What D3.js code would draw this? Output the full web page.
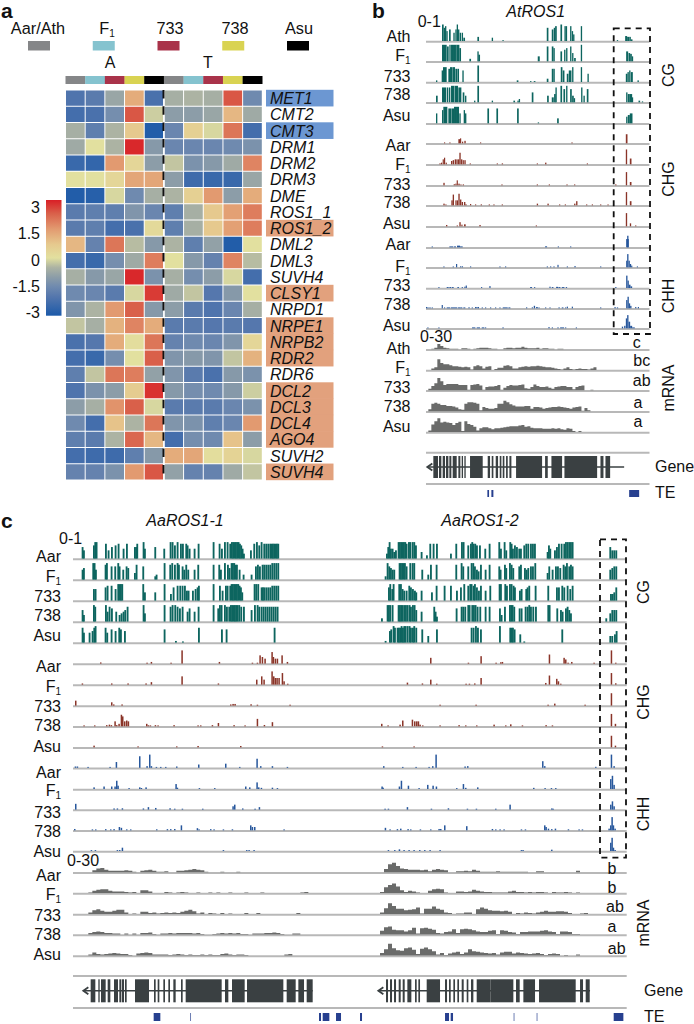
<!DOCTYPE html>
<html><head><meta charset="utf-8">
<script src="https://cdn.jsdelivr.net/npm/d3@7"></script>
<style>html,body{margin:0;padding:0;background:#fff}svg{display:block}text{font-family:"Liberation Sans",Arial,sans-serif;fill:#111}</style>
</head><body><svg id="c" width="694" height="1024"></svg>
<script>
const samples=["Aar/Ath","F1","733","738","Asu"];
const sampleColors=["#858688","#85c3cf","#a9334a","#d9d352","#000000"];
const genes=["MET1","CMT2","CMT3","DRM1","DRM2","DRM3","DME","ROS1_1","ROS1_2","DML2","DML3","SUVH4","CLSY1","NRPD1","NRPE1","NRPB2","RDR2","RDR6","DCL2","DCL3","DCL4","AGO4","SUVH2","SUVH4"];
const geneHighlight=["b","","b","","","","","","o","","","","o","","o","o","o","","o","o","o","o","","o"];
const heat=[
[-2.1,-1.9,-.8,1.2,-2.2,-.6,-.5,-.6,2.4,-1.5],
[-2.3,-2.2,-1.4,2.4,-.2,-1,-1,-.8,1,-.7],
[-.6,-1.8,-.5,.7,-2.9,-1.6,.5,-.1,2,-2.3],
[-.7,0,-.5,2.9,-1.1,-1.6,-1.6,-1.6,-1.5,-1.3],
[-2.5,-2.6,1.5,.3,-1,-.3,-1.3,-1.1,-.7,1.8],
[0,0,.3,1.3,1.3,-1,-2.4,-2.5,-2.5,-.8],
[-2.9,-2.8,-.1,-1.5,-.6,-.5,.5,1.5,-1,1.2],
[-1.9,-1.8,-1.8,-1.2,-1.6,-1.8,-.6,.7,1.4,1.9],
[-1.9,-1.8,-2.3,-2.2,.2,-1.8,-.6,.7,1.4,1.9],
[1,-1.7,2,-.4,-1.1,-.5,-1.8,-.9,-2.9,0],
[-2.3,-2.5,-1.4,-.7,1.9,0,-1.1,-1.7,1.8,-.4],
[-.6,-1.1,-.8,2.9,-1.3,-.6,-1.4,-1,-.1,-2.3],
[-1.5,-1.6,-1.9,-.1,2.7,-.7,-.3,-2,-1.1,0],
[-1.2,-.5,1.5,2.3,-1.1,-1,-1.9,-2.1,-1.6,-.6],
[-.3,-.6,1.1,1.8,1.2,-1.9,-1.9,-2,-1.9,-2],
[-2.2,-2,1.2,.1,2,-1.7,-1.5,-1.6,-1.2,.3],
[-2.3,-2.5,-1.4,0,2.3,-1.2,-1.1,-1.2,-.3,1.1],
[-1.8,-.3,2,1.9,-.9,-1.2,-1.9,-2.2,-1.1,-1.3],
[-2.1,-1.3,-1,.6,2.8,-1.1,-1.4,-1.5,-1.1,-.2],
[-1,-.6,1.6,2.3,-.1,-1.9,-1.9,-1.9,-1.6,-1.3],
[-1.5,-2.3,.8,-.5,2,-1.2,-1.3,-1.8,-1.6,1.5],
[-1.8,-1.9,-.5,2.2,1,-2.3,-1.4,-1.5,.8,-1],
[-2.3,-2.4,-2.4,-1.8,-1.1,1.2,1.3,.1,.4,-.1],
[-1.7,-1.7,-1.3,1.5,2.4,-.9,-1.7,-1.7,-.7,-.3]];
const heatTicks=[3,1.5,0,-1.5,-3];
const heatStops=[-3,-2,-1.5,-1,-.5,0,.7,1.5,2.3,3];
const heatColors=["#1c5aa9","#5577ad","#6f8aaf","#8c9da8","#acb3a3","#e2e09f","#e6c98e","#e29a70","#d9604a","#d91f26"];

/* panel b: [position, width, level 0-10] */
const bCG=[
[[216,5,10],[221,4,8],[225,3,9],[229,4,6],[237,5,7],[250,3,5],[256,4,7],[260,4,10],[264,4,7],[269,3,5],[275,3,5],[280,5,2],[322,5,2.5],[365,4,2],[397,4,.5],[530,5,8],[545,5,7],[551,3,8],[555,5,9],[571,5,10],[583,3,9],[587,4,9],[600,4,9],[605,3,6],[609,4,4],[632,4,9],[740,4,.5],[765,6,3],[771,7,2.5],[778,4,2.5],[782,5,1]],
[[216,14,10],[231,5,9],[238,4,10],[243,6,10],[249,6,10],[255,5,10],[260,8,10],[268,5,8],[298,5,1.5],[322,3,6],[325,5,4],[503,6,3],[530,5,9],[545,5,9],[550,4,8],[571,5,6],[582,3,7],[588,3,8],[600,4,9],[606,3,5],[612,5,2],[632,4,10],[768,6,6],[775,5,5],[780,5,4.5],[785,4,3]],
[[198,4,1],[215,4,7],[219,11,9],[235,5,8],[240,8,9],[249,6,9],[256,5,8],[262,5,8],[277,4,7],[322,5,10],[440,5,1],[480,4,.5],[491,5,.5],[530,5,2],[545,5,8],[550,4,8],[572,5,9],[578,5,7],[590,5,5],[596,8,7],[606,3,9],[632,4,9],[652,4,5],[767,5,5],[772,4,6],[777,4,7],[782,6,6],[802,4,1]],
[[198,5,4],[216,12,9],[230,4,9],[236,5,9],[243,10,10],[254,10,10],[265,9,9],[278,5,6],[285,4,4],[312,3,1],[322,5,10],[365,3,1],[430,5,1],[442,3,1],[446,4,2],[485,5,6],[531,5,4],[545,6,3],[552,5,5],[556,3,9],[571,5,10],[580,5,8],[588,3,10],[600,5,8],[606,5,4],[611,4,2.5],[633,4,9],[640,4,4],[650,5,8],[768,4,6],[773,6,5],[779,7,5],[785,4,3],[805,5,1],[815,4,.5]],
[[198,4,6],[216,4,8],[220,12,10],[235,8,9],[244,8,9],[252,6,10],[258,9,10],[268,4,6],[281,3,8],[285,4,6],[352,5,9],[379,5,9],[441,5,9],[503,4,.5],[561,5,3],[768,4,4],[773,6,5],[779,8,6]]];
const bCHG=[
[[222,2,.5],[238,2,.5],[265,5,2.5],[270,3,3],[276,2,1],[283,4,1.5],[330,3,.5],[604,3,.5],[767,5,5.5]],
[[208,4,.5],[213,3,1],[218,3,3],[222,3,4],[227,3,1],[243,4,2],[248,4,2.5],[254,4,3],[259,4,3],[264,4,3],[268,4,7],[273,4,3],[278,3,2.5],[283,4,2.5],[299,3,.5],[380,3,.5],[395,4,.5],[500,3,.5],[525,4,1],[650,3,.3],[767,4,9],[779,5,3.5]],
[[220,4,1.5],[251,3,.7],[256,3,1],[260,3,3],[265,4,1],[271,3,.5],[278,4,.5],[394,3,.3],[500,3,.3],[536,3,.5],[589,3,.3],[612,3,.5],[735,4,.5],[767,4,8],[779,5,2]],
[[220,4,1],[226,3,.5],[244,4,3],[248,4,6.5],[256,3,3],[260,4,3],[265,4,7],[270,4,3.5],[275,4,2],[282,4,2],[286,4,.5],[300,3,.8],[315,3,.5],[332,3,.6],[356,2,.3],[370,2,.3],[395,3,.5],[500,4,1],[532,4,1],[567,3,.4],[584,3,.4],[612,4,1],[618,4,2.5],[648,3,.3],[665,3,.3],[690,3,.3],[712,3,.3],[767,4,8],[779,5,2.5]],
[[228,4,.8],[260,3,.5],[268,4,2.5],[274,3,1],[282,5,1.2],[328,4,.8],[497,3,.3],[767,4,8],[779,4,1.8],[795,3,.4]]];
const bCHH=[
[[185,2,.3],[238,12,.4],[252,6,.4],[261,9,1],[270,8,.5],[525,6,.6],[563,3,.3],[600,3,.3],[768,8,5],[771,4,7]],
[[220,3,.3],[248,2,.3],[258,3,2],[270,3,.6],[275,4,.6],[300,3,.4],[388,3,.3],[405,3,.3],[530,3,.4],[540,3,.5],[550,3,.3],[562,3,1.5],[590,3,.3],[613,3,.8],[690,3,.4],[768,3,4],[771,4,8],[775,4,4],[779,4,2],[783,3,1],[800,3,.3]],
[[205,3,.3],[230,6,.5],[238,6,.5],[246,5,.4],[262,5,.5],[275,3,.4],[283,3,.8],[287,3,1.5],[333,2,.3],[358,3,1.2],[480,6,.3],[492,3,.3],[538,3,.8],[545,5,.5],[558,6,.7],[565,6,.5],[575,8,.4],[587,4,.3],[735,4,.5],[768,4,7.5],[772,4,4.5],[776,5,2],[781,5,1]],
[[168,3,.8],[172,4,.5],[178,4,.3],[185,3,.3],[215,3,2],[222,3,.5],[230,10,.5],[242,20,.5],[264,8,.5],[272,5,.5],[280,6,.5],[295,4,.6],[305,3,.5],[315,5,.8],[322,5,.8],[335,3,.4],[345,3,.3],[360,3,.3],[375,3,.3],[388,3,.3],[398,15,.3],[415,6,.3],[468,3,.6],[485,3,.6],[491,4,1.5],[498,5,.8],[505,3,.5],[525,3,.3],[538,3,.3],[565,4,.4],[575,5,.5],[585,3,.5],[590,3,1],[605,3,1],[690,3,.3],[733,3,.8],[740,4,.4],[768,4,5],[772,4,7],[776,4,3],[780,4,1.5],[795,3,.8],[803,3,.8]],
[[172,2,.3],[205,2,.3],[306,10,.3],[320,10,.3],[335,8,.3],[345,2,.3],[397,4,.3],[535,3,.8],[545,2,.3],[562,3,.6],[570,12,.4],[585,3,.4],[617,3,.5],[755,4,1],[762,4,1.5],[767,4,6],[771,4,8],[775,5,4],[780,6,1.5],[786,8,.5]]];
const bRNA=[
[0,1,3,10,6,3,2,1,1,1,0,2,2,1,0,1,2,3,3,3,2,1,1,0,0,2,3,3,2,3,3,5,3,2,2,2,3,1,2,2,1,1,0,1,1,0,0,0,0,1],
[0,3,5,20,13,11,11,9,7,7,6,5,6,5,1,7,9,7,3,6,7,0,2,4,4,8,9,7,3,3,5,6,7,6,7,7,8,7,6,5,5,4,3,2,1,3,5,2,1,2,3,2,2,1,3,5,0],
[3,8,13,23,17,10,12,12,12,12,10,10,10,1,10,11,12,9,1,6,7,7,8,10,1,5,8,10,9,9,10,11,4,3,6,11,8,6,6,7,5,3,6,7,8,8,6,6,2,6,8,9,0,0,1,0],
[4,14,16,14,12,12,10,10,9,7,4,3,14,17,17,16,14,2,8,6,5,5,6,14,14,20,17,13,11,9,9,9,10,10,5,8,8,7,5,6,7,8,8,9,8,7,6,5,7,8,9,1,6,2,0],
[3,14,20,26,18,19,18,17,13,17,19,2,20,15,13,10,3,7,9,9,7,5,7,7,8,9,10,11,11,11,12,13,10,11,8,7,7,7,6,6,6,7,6,7,5,4,7,6,2,0,2,0]];
const bExons=[[190,14],[207,7],[218,7],[228,7],[238,6],[248,12],[265,6],[275,4],[283,4],[300,38],[353,7],[365,5],[377,7],[389,5],[398,5],[408,5],[418,6],[438,78],[525,8],[544,32],[583,98],[691,9],[706,14]];
const bTE=[[352,5],[364,6],[777,30]];
const bSigLetters=["c","bc","ab","a","a"];

/* panel c: each sample holds [AaROS1-1 region, AaROS1-2 region] of [position, level 0-10] */
const cCG=[
[[[245,7],[249,5],[279,8],[283,10],[287,10],[315,9],[323,5],[333,7],[344,8],[353,9],[368,6],[378,9],[402,7],[406,7],[409,9],[428,10],[432,6],[463,7],[490,6],[509,10],[515,10],[522,8],[530,10],[540,9],[546,9],[556,9],[560,8],[566,6],[581,6],[593,9],[638,10],[656,9],[663,6],[672,10],[680,10],[688,9],[693,10],[697,10],[701,10],[705,10],[709,10],[713,10],[717,9],[721,8],[725,6],[729,3],[750,5],[760,9],[768,10],[775,8],[782,10],[790,9],[796,9],[802,9],[808,9],[812,9],[816,9],[820,9],[824,9],[828,9],[832,9]],
[[108,3],[112,7],[116,10],[120,6],[125,6],[130,4],[135,5],[143,10],[147,10],[151,10],[155,10],[159,10],[163,10],[167,9],[174,10],[178,10],[185,10],[190,10],[195,8],[212,4],[228,2],[238,9],[248,9],[258,9],[300,3],[316,9],[333,10],[338,10],[352,8],[360,9],[364,10],[368,9],[373,9],[378,8],[387,8],[403,6],[416,9],[445,10],[450,6],[461,10],[466,5],[478,10],[482,9],[486,6],[492,8],[498,7],[505,6],[510,6],[520,8],[526,9],[532,9],[540,9],[546,9],[552,9],[590,4],[594,8],[598,6],[612,5],[618,7],[624,9],[632,9],[640,9],[645,10],[650,10],[655,10],[660,10],[665,10],[778,7],[784,5],[790,5],[796,5]]],
[[[245,6],[249,7],[277,10],[281,10],[285,6],[314,9],[318,10],[332,8],[343,8],[352,10],[356,8],[367,6],[377,8],[382,7],[402,4],[407,9],[427,8],[463,2],[467,3],[491,10],[508,9],[514,10],[522,9],[530,10],[534,9],[545,8],[550,6],[556,9],[562,6],[581,6],[592,9],[638,9],[655,9],[660,6],[672,10],[681,9],[686,7],[692,10],[696,10],[700,10],[704,9],[708,9],[716,6],[728,3],[752,3],[765,8],[771,9],[777,8],[785,9],[790,9],[796,9],[802,9],[808,9],[814,10],[820,10],[826,10],[832,10]],
[[104,2],[110,10],[115,8],[120,7],[125,6],[130,6],[146,10],[150,10],[154,10],[158,10],[162,10],[167,8],[178,10],[185,10],[190,10],[214,6],[232,3],[240,9],[257,9],[316,9],[332,10],[337,8],[352,8],[362,10],[367,10],[372,8],[378,6],[383,5],[390,9],[404,6],[416,9],[445,8],[449,6],[462,9],[466,7],[477,10],[482,9],[487,7],[505,8],[510,9],[522,7],[527,6],[532,7],[540,8],[546,8],[553,10],[590,4],[595,8],[605,6],[615,8],[621,8],[628,7],[638,9],[643,8],[648,10],[655,8],[660,9],[665,8],[778,6],[784,7],[790,8],[796,8]]],
[[[279,7],[284,7],[314,8],[320,9],[332,9],[344,7],[352,10],[356,10],[360,10],[364,10],[427,10],[432,5],[463,5],[491,10],[510,4],[518,8],[530,9],[538,9],[545,9],[552,9],[558,6],[563,6],[576,6],[584,7],[590,8],[594,9],[638,10],[657,9],[665,6],[675,9],[680,9],[688,9],[692,10],[696,10],[700,10],[704,10],[708,10],[712,10],[716,9],[720,8],[724,5],[761,10],[766,10],[772,10],[782,8],[786,8],[790,8],[796,8],[802,8],[808,8],[814,9],[820,9],[826,9],[832,9]],
[[114,8],[118,10],[124,7],[128,10],[145,10],[150,10],[155,7],[160,6],[167,6],[175,9],[180,8],[186,7],[192,6],[196,5],[212,6],[243,5],[257,9],[281,9],[300,9],[318,6],[330,8],[340,10],[352,9],[358,10],[362,10],[368,9],[372,10],[378,8],[384,6],[390,9],[404,6],[418,9],[446,10],[450,10],[463,10],[468,9],[477,10],[482,10],[488,9],[492,8],[507,6],[512,7],[526,7],[530,8],[535,9],[554,9],[592,9],[618,8],[624,8],[634,9],[640,8],[650,9],[658,7],[665,9],[780,4],[785,4],[790,5],[796,8]]],
[[[245,7],[249,4],[279,10],[283,9],[315,10],[320,6],[326,9],[333,8],[346,6],[356,4],[362,5],[368,6],[373,7],[380,9],[428,10],[432,5],[491,10],[509,9],[515,10],[523,10],[530,9],[537,8],[545,9],[560,6],[566,8],[581,6],[593,9],[638,10],[652,8],[657,10],[662,10],[672,10],[678,9],[685,9],[690,10],[694,10],[698,10],[702,10],[706,10],[710,10],[715,10],[721,9],[729,9],[752,7],[762,10],[770,10],[775,9],[782,9],[788,9],[794,9],[800,9],[806,9],[812,9],[818,9],[824,9],[830,9]],
[[93,2],[110,10],[114,10],[118,10],[125,10],[143,10],[147,10],[151,10],[155,10],[160,10],[165,10],[170,10],[176,10],[180,9],[186,10],[191,10],[196,7],[212,6],[250,9],[254,6],[258,3],[317,8],[332,9],[337,9],[343,9],[352,10],[356,10],[364,10],[369,10],[374,10],[380,9],[388,9],[404,9],[416,9],[447,8],[452,4],[462,9],[477,10],[481,10],[485,10],[490,9],[506,8],[512,8],[524,9],[530,9],[535,10],[540,9],[547,9],[555,9],[592,10],[596,10],[619,8],[630,7],[635,6],[645,8],[650,9],[655,7],[660,5],[766,2],[778,5],[784,7],[790,7],[796,7]]],
[[[245,9],[249,6],[266,6],[275,7],[280,9],[284,10],[314,9],[319,6],[332,8],[344,7],[355,9],[360,8],[372,7],[491,8],[525,1],[546,.7],[594,9],[663,8],[677,8],[821,9]],
[[104,1],[117,7],[121,8],[128,10],[132,9],[140,9],[144,9],[148,9],[152,10],[156,9],[160,10],[164,10],[170,10],[176,10],[180,9],[186,9],[190,10],[196,9],[214,8],[232,4],[258,8],[362,9],[368,9],[375,10],[381,9],[390,8],[447,10],[478,9],[482,9],[486,9],[491,8],[508,5],[520,.7],[634,8],[778,4],[784,4],[792,5],[797,7]]]];
const cCHG=[
[[[300,.7],[439,.5],[452,1],[511,.4],[544,8],[656,1],[755,.4],[770,.4],[778,5],[785,4],[793,3],[814,7],[818,4],[824,3],[830,3],[844,5],[860,1]],
[[240,3.5],[353,.4],[391,4.5],[436,.4],[450,.8],[455,1],[596,5.5],[640,3.5],[645,2.5],[652,.4],[663,1],[730,.4],[782,8],[795,.5]]],
[[[245,.7],[333,.7],[382,.7],[436,.7],[452,1.5],[544,5],[653,.7],[768,3],[783,5],[790,3],[814,8],[819,5],[824,4],[829,4],[835,4],[845,7],[850,2],[861,.5]],
[[170,1.2],[215,.7],[240,3],[258,.5],[346,.5],[356,.5],[372,.7],[391,4],[585,1],[596,5.5],[618,3.5],[623,2],[630,.4],[782,7],[795,.8]]],
[[[225,3],[333,2],[339,.7],[364,.7],[690,.7],[697,1],[703,1],[751,.8],[770,.5],[868,.3]],
[[268,.4],[376,.4],[592,.4],[612,1.2],[703,.4],[782,7.5]]],
[[[250,.4],[282,.4],[318,.7],[326,1],[332,.7],[343,3],[348,.7],[355,1.5],[362,7],[366,6],[372,3],[378,3.5],[383,3],[438,1.5],[443,.6],[449,.5],[464,.7],[472,.4],[520,.7],[592,.5],[600,.4],[635,.7],[653,2],[700,.7],[733,.5],[770,4.5],[791,.8],[815,2.5]],
[[93,1.5],[112,.3],[148,1],[156,3.5],[185,4],[192,3],[198,3],[203,3],[208,1],[216,.4],[268,.4],[325,.7],[345,.3],[378,.3],[430,1],[465,.4],[480,1.2],[515,.3],[586,.7],[605,.4],[782,7.5],[794,1.5]]],
[[[280,1],[412,.3],[528,.3],[592,.8],[720,.8]],
[[95,.4],[190,.4],[782,7],[794,1]]]];
const cCHH=[
[[[224,.8],[230,.8],[262,.4],[328,.5],[347,3.5],[417,7],[439,1],[447,8],[452,1],[467,.4],[480,.3],[495,.3],[528,.8],[594,2],[675,2.5],[717,.5],[769,5.5],[780,1],[815,1],[860,.3]],
[[99,1],[156,.4],[196,.4],[235,.4],[246,1],[256,8],[343,.8],[351,1],[576,4],[582,1],[735,.6],[782,8],[790,1]]],
[[[280,1],[310,1.5],[333,1.5],[343,1.5],[348,5],[352,2],[385,.5],[417,1],[422,.6],[436,1],[526,3],[530,.8],[596,.4],[642,.4],[735,1.5],[747,1],[769,4],[774,1],[782,.7],[815,.8],[830,.4]],
[[94,1.5],[97,.8],[146,1.5],[152,5],[173,2],[205,.4],[231,2.5],[247,2],[257,1.5],[318,.4],[338,3],[345,.7],[381,1],[549,.7],[583,.5],[602,.3],[615,.3],[780,6],[785,8],[790,2.5]]],
[[[225,3.5],[340,.7],[350,.7],[365,.8],[428,.7],[443,1.5],[465,1],[508,.8],[522,.4],[545,.4],[606,.3],[697,2],[702,3],[726,.7],[763,.4],[776,1.5]],
[[103,.4],[113,.5],[170,1.5],[242,.3],[293,.8],[350,.3],[377,.3],[435,.3],[478,3],[603,.7],[607,.4],[780,3],[785,5],[790,2]]],
[[[222,.8],[275,.5],[285,.5],[315,.7],[330,.5],[340,.7],[356,2],[362,1.5],[378,.3],[390,.5],[468,.6],[500,.7],[510,.7],[522,.8],[542,3],[590,1.3],[595,.5],[630,.7],[640,.3],[668,.4],[695,.6],[750,3],[755,2],[762,2],[850,.5]],
[[104,1.5],[118,.5],[140,.7],[150,1],[172,.7],[180,.3],[209,.5],[240,.4],[265,.8],[270,.8],[282,3],[348,2.5],[425,.8],[435,.3],[448,.5],[460,.4],[512,.4],[524,.3],[582,3],[586,2],[593,1],[603,.7],[614,1],[653,.6],[685,.3],[695,.3],[775,1],[780,3],[784,8],[788,3],[793,1]]],
[[[272,.3],[284,.3],[350,.5],[357,.5],[365,2],[668,.3],[738,.4],[745,.4],[760,.3]],
[[113,.3],[132,.4],[146,1],[160,.4],[175,.4],[190,.3],[207,.3],[222,.3],[238,.3],[268,.3],[512,.4],[517,.2],[603,.8],[780,5],[784,8],[788,2],[793,.6]]]];
const cRNA1=[
[0,4,7,8,5,3,3,3,3,4,3,1,0,3,4,5,3,1,1,2,0,0,3,3,4,5,6,5,4,1,0,0,0,1,0,0,0,1,0,0],
[1,4,6,7,7,4,3,3,3,2,1,2,0,5,5,3,0,0,0,2,1,0,1,2,1,0,0,1,0,0,1,0,1,0,0,1,0,0,0,1,0,0,0,1,0,0,0,0,0,0,0,0,0,1,2,0],
[3,7,9,6,4,4,6,8,8,3,0,1,0,4,4,2,3,1,2,3,2,3,2,4,6,8,5,1,3,0,2,1,0,2,0,1,0,0,0,2,0,0,2,0,0,0,0,0,0,0,0,0,2,1],
[3,5,6,5,3,3,2,2,0,2,0,2,0,3,3,4,1,0,2,2,3,2,3,3,3,3,2,3,1,0,0,1,2,3,2,3,2,3,1,1,0,2,2,2,3,3,4,3,1,0,0,2,2,2],
[2,6,3,2,3,4,5,4,3,3,1,0,4,5,6,5,2,2,2,2,1,2,3,2,1,2,1,1,2,1,2,1,1,3,4,2,1,2,2,1,0,0,0,0,0,0,0,0,0,2,3,1]];
const cRNA2=[
[0,6,15,18,12,7,6,5,5,5,4,5,2,5,6,5,4,0,0,2,2,3,2,5,3,1,1,1,1,2,1,1,1,1,1,1,1,0,0,2,2,0,0,0,0,0,0,0,0,3,0],
[2,11,15,18,12,5,2,4,3,1,0,0,4,7,8,7,1,0,0,3,3,2,3,6,4,3,2,2,1,1,1,1,3,4,2,2,1,2,1,2,2,1,0,2,1,1,2,1,0,1,2],
[3,11,20,15,10,10,7,8,9,12,1,10,10,14,10,8,3,2,0,1,1,3,3,0,9,12,10,7,6,6,5,6,4,0,2,1,3,2,1,3,4,6,4,4,5,5,4,2,0,0,1,2,1],
[7,14,15,9,8,8,6,8,13,2,12,13,11,9,3,2,5,6,10,3,10,11,10,8,6,5,5,7,8,1,8,7,5,4,1,5,5,6,6,6,7,8,6,5,1,6,6,5,1,1,2],
[5,12,22,14,10,9,14,15,11,3,13,15,12,8,2,5,1,4,6,7,3,6,12,8,7,6,5,4,5,2,6,7,7,4,6,5,4,3,4,5,3,1,3,4,3,0,1,0,0,2,0]];
const cExons1=[[272,14],[295,4],[303,14],[323,8],[342,12],[358,5],[365,7],[375,5],[405,42],[462,5],[473,5],[490,5],[505,5],[520,7],[543,5],[557,108],[675,10],[696,38],[741,109],[860,27],[895,17],[920,18]];
const cExons2=[[108,6],[120,6],[132,6],[146,6],[158,6],[172,12],[195,5],[205,5],[230,40],[285,6],[297,5],[310,5],[322,5],[335,6],[350,5],[363,7],[380,42],[422,68],[498,11],[520,35],[567,110],[690,9],[707,12]];
const cTE1=[[461,20],[571,2],[957,6],[968,20],[1008,15]];
const cTE2=[[30,6],[285,12],[302,7],[491,2],[560,2],[791,29]];
const cSigLetters=["b","b","ab","a","ab"];
const labelsAth=["Ath","F1","733","738","Asu"];
const labelsAar=["Aar","F1","733","738","Asu"];

const C={cg:"#0d655f",chg:"#8a3428",chh:"#27579c",rna:"#6a6b6a",axis:"#b8b8b8",gene:"#3a4042",te:"#27408f"};
const svg=d3.select("#c");
const T=(x,y,s,o={})=>{const t=svg.append("text").attr("x",x).attr("y",y).attr("font-size",o.size||16)
  .attr("text-anchor",o.anchor||"start").attr("font-style",o.italic?"italic":null).attr("font-weight",o.bold?"bold":null);
  if(o.rot!=null)t.attr("transform",`rotate(${o.rot} ${x} ${y})`);
  if(s==="F1"){t.append("tspan").text("F");t.append("tspan").attr("font-size",10).attr("dy",3).text("1");}else t.text(s);return t;};

/* ---------- panel a ---------- */
T(1,18,"a",{size:21,bold:true});T(372,18,"b",{size:21,bold:true});T(1,528,"c",{size:21,bold:true});
const legX=d3.scalePoint().domain(samples).range([39,298]);
const legLabelX=[38,107,170,235,299];
samples.forEach((s,i)=>{T(legLabelX[i],34,s,{anchor:"middle",size:16.3});
  svg.append("rect").attr("x",legX(s)-11).attr("y",41).attr("width",22).attr("height",9.5).attr("fill",sampleColors[i]);});
T(110,67.7,"A",{anchor:"middle"});T(208,67.7,"T",{anchor:"middle"});
const colIdx=d3.range(10);
const xH=d3.scaleBand().domain(colIdx).range([65.5,262.3]);
const yH=d3.scaleBand().domain(d3.range(genes.length)).range([90,480]);
const col=d3.scaleLinear().domain(heatStops).range(heatColors).clamp(true);
svg.append("g").selectAll("rect").data(colIdx).join("rect").attr("x",d=>xH(d)).attr("y",76).attr("width",xH.bandwidth()+.2).attr("height",8).attr("fill",d=>sampleColors[d%5]);
heat.forEach((row,r)=>svg.append("g").selectAll("rect").data(row).join("rect")
  .attr("x",(d,i)=>xH(i)+.5).attr("y",yH(r)+.5).attr("width",xH.bandwidth()-1).attr("height",yH.bandwidth()-1).attr("fill",d=>col(d)));
svg.append("line").attr("x1",xH(5)).attr("x2",xH(5)).attr("y1",90).attr("y2",480).attr("stroke","#fff").attr("stroke-width",1.6);
svg.append("line").attr("x1",xH(5)-.4).attr("x2",xH(5)-.4).attr("y1",90).attr("y2",476).attr("stroke","#111").attr("stroke-width",2).attr("stroke-dasharray","8.5,7.8");
const hlCol={b:"#6c97d2",o:"#e2a17d"};
genes.forEach((g,i)=>{ if(geneHighlight[i]) svg.append("rect").attr("x",266).attr("width",67.5).attr("y",yH(i)-.2).attr("height",yH.bandwidth()+.4).attr("fill",hlCol[geneHighlight[i]]);});
genes.forEach((g,i)=>T(270,yH(i)+14,g,{italic:true,size:16}));
const defs=svg.append("defs");const grad=defs.append("linearGradient").attr("id","cb").attr("x1",0).attr("x2",0).attr("y1",1).attr("y2",0);
heatStops.forEach(v=>grad.append("stop").attr("offset",(v+3)/6).attr("stop-color",col(v)));
svg.append("rect").attr("x",46).attr("y",200).attr("width",15.5).attr("height",115.7).attr("fill","url(#cb)");
const yBar=d3.scaleLinear().domain([3,-3]).range([207,312]);
heatTicks.forEach(v=>T(40,yBar(v)+6,String(v),{anchor:"end",size:16}));

/* ---------- track helpers ---------- */
const yM=d3.scaleLinear().domain([0,10]).range([0,16.5]);
const yR=d3.scaleLinear().domain([0,30]).range([0,16]);
function axisLine(x0,x1,y){svg.append("line").attr("x1",x0).attr("x2",x1).attr("y1",y).attr("y2",y).attr("stroke",C.axis).attr("stroke-width",2);}
function bars(data,x,base,color){svg.append("g").selectAll("rect").data(data).join("rect")
  .attr("x",d=>x(d[0])).attr("width",d=>x(d[0]+d[1])-x(d[0])).attr("y",d=>base-.7-Math.max(yM(d[2]),.9)).attr("height",d=>Math.max(yM(d[2]),.9)).attr("fill",color);}
function rna(values,x,start,step,base){
  const area=d3.area().x((d,i)=>x(start+i*step)).y0(base-.7).y1(d=>base-.7-yR(d)).curve(d3.curveStepAfter);
  svg.append("path").attr("d",area(values)).attr("fill",C.rna);}
function exons(list,x,top,h,off=0){svg.append("g").selectAll("rect").data(list).join("rect")
  .attr("x",d=>x(d[0]+off)).attr("width",d=>x(d[0]+d[1]+off)-x(d[0]+off)).attr("y",top).attr("height",h).attr("fill",C.gene);}
function teMarks(list,x,top,h,off=0){svg.append("g").selectAll("rect").data(list).join("rect")
  .attr("x",d=>x(d[0]+off)).attr("width",d=>x(d[0]+d[1]+off)-x(d[0]+off)).attr("y",top).attr("height",h).attr("fill",C.te);}
function geneLine(x,a,b,cy){svg.append("line").attr("x1",x(a)).attr("x2",x(b)).attr("y1",cy).attr("y2",cy).attr("stroke",C.gene).attr("stroke-width",1.6);
  const px=x(a);svg.append("path").attr("d",`M${px+5},${cy-3.5}L${px},${cy}L${px+5},${cy+3.5}`).attr("fill","none").attr("stroke",C.gene).attr("stroke-width",1.8);}
function dashBox(x0,y0,x1,y1){svg.append("rect").attr("x",x0).attr("y",y0).attr("width",x1-x0).attr("height",y1-y0).attr("fill","none").attr("stroke","#111").attr("stroke-width",1.8).attr("stroke-dasharray","6,5");}

/* ---------- panel b ---------- */
const xB=d3.scaleLinear().domain([168,838]).range([426,649.5]);
const bY={cg:[41.7,62,82.7,103,124],chg:[144,165,186,206,227],chh:[248,268,288.7,309,329],rna:[350,370.7,391,412,432.7]};
const bLab={cg:[41.7,61,81.7,100,121],chg:[150.7,170,190,208,229],chh:[250,271.7,291,310,330.7],rna:[354,373,393,411.7,432]};
[["cg",bCG,C.cg],["chg",bCHG,C.chg],["chh",bCHH,C.chh]].forEach(([k,d,c])=>d.forEach((tr,i)=>{
  axisLine(426,649.5,bY[k][i]);bars(tr.map(p=>[p[0],Math.max(p[1],k==="cg"?4:3.5),p[2]]),xB,bY[k][i],c);T(410.5,bLab[k][i],(k==="cg"?labelsAth:labelsAar)[i],{anchor:"end"});}));
bRNA.forEach((v,i)=>{axisLine(426,649.5,bY.rna[i]);rna(v,xB,175,9,bY.rna[i]);T(410.5,bLab.rna[i],labelsAth[i],{anchor:"end"});});
axisLine(426,649.5,452.7);axisLine(426,649.5,484);
geneLine(xB,172,762,467);exons(bExons,xB,456,22);teMarks(bTE,xB,490,7);
dashBox(613.7,28.3,650,334);
T(535.7,17.3,"AtROS1",{anchor:"middle",italic:true});
T(417.7,27.3,"0-1");T(420,341.7,"0-30");
[[636.7,348],[641.7,366],[641.7,386],[638,408],[638,426.7]].forEach((p,i)=>T(p[0],p[1],bSigLetters[i],{anchor:"middle"}));
[["CG",75],["CHG",179],["CHH",296],["mRNA",388]].forEach(([s,y])=>T(674,y,s,{anchor:"middle",rot:-90}));
T(655,471.7,"Gene");T(655,497.7,"TE");

/* ---------- panel c ---------- */
const xC=d3.scaleLinear().domain([219,1880]).range([73,626.7]);
const regionOffset=[0,1050];
const cY={cg:[559.3,580.3,601.3,622.3,643.3],chg:[664.3,685.3,706.3,727,748],chh:[768.5,789.7,810.3,831,851.7],rna:[873,893.7,914.7,935.3,956.3]};
const cLab={cg:[561.7,581.7,601.7,620.7,641],chg:[671.7,691.7,711.7,730.7,751.7],chh:[778.3,796,817.7,836.7,856.7],rna:[881,900,921,940,960]};
[["cg",cCG,C.cg],["chg",cCHG,C.chg],["chh",cCHH,C.chh]].forEach(([k,d,c])=>d.forEach((tr,i)=>{
  axisLine(73,626.7,cY[k][i]);
  tr.forEach((reg,r)=>bars(reg.map(p=>[p[0]+regionOffset[r],k==="cg"?5.5:4.5,p[1]]),xC,cY[k][i],c));
  T(61,cLab[k][i],labelsAar[i],{anchor:"end"});}));
labelsAar.forEach((s,i)=>{axisLine(73,626.7,cY.rna[i]);
  rna(cRNA1[i],xC,265,12,cY.rna[i]);rna(cRNA2[i],xC,90+1050,12,cY.rna[i]);T(61,cLab.rna[i],s,{anchor:"end"});});
axisLine(73,626.7,976);axisLine(73,626.7,1008);
geneLine(xC,250,938,990.7);geneLine(xC,85+1050,720+1050,990.7);
exons(cExons1,xC,979.3,23);exons(cExons2,xC,979.3,23,1050);
teMarks(cTE1,xC,1013,8);teMarks(cTE2,xC,1013,8,1050);
dashBox(600,539.3,626,857.7);
T(185,526,"AaROS1-1",{anchor:"middle",italic:true});T(480,526,"AaROS1-2",{anchor:"middle",italic:true});
T(59,544.3,"0-1");T(67,866,"0-30");
[[612,874],[612,892.7],[615,911.7],[612,931.7],[616.7,954]].forEach((p,i)=>T(p[0],p[1],cSigLetters[i],{anchor:"middle"}));
[["CG",592],["CHG",702],["CHH",814],["mRNA",923]].forEach(([s,y])=>T(649,y,s,{anchor:"middle",rot:-90}));
T(644,996,"Gene");T(644,1021.7,"TE");
</script></body></html>
